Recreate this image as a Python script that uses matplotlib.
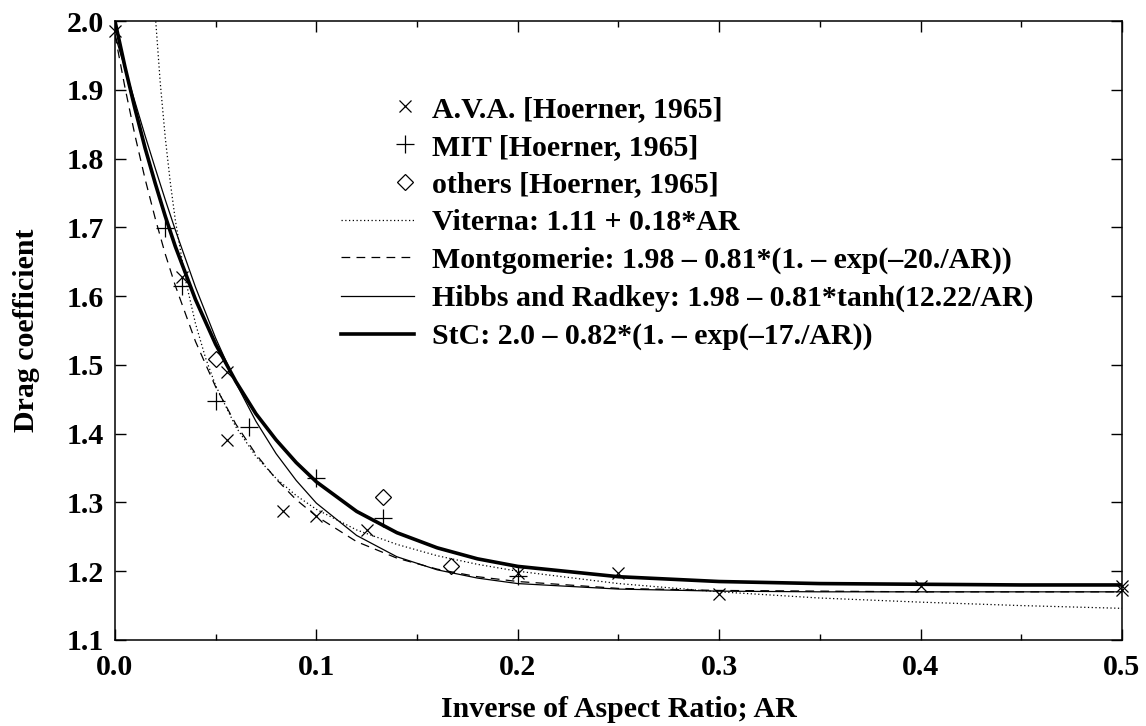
import matplotlib
matplotlib.use("Agg")
import matplotlib.pyplot as plt
from matplotlib.legend_handler import HandlerLine2D
from matplotlib.ticker import MultipleLocator

# measured points (x = inverse of aspect ratio)
ava_x = [0.0, 0.0333, 0.0556, 0.0556, 0.0833, 0.1, 0.125, 0.2, 0.25, 0.3, 0.4, 0.5, 0.5]
ava_y = [1.985, 1.628, 1.490, 1.391, 1.288, 1.280, 1.260, 1.197, 1.197, 1.167, 1.179, 1.179, 1.172]
mit_x = [0.025, 0.0333, 0.05, 0.0667, 0.1, 0.1333, 0.2]
mit_y = [1.699, 1.614, 1.447, 1.410, 1.336, 1.277, 1.193]
oth_x = [0.05, 0.1333, 0.1667]
oth_y = [1.509, 1.308, 1.208]

# fitted curves
curve_x = [0, 0.005, 0.01, 0.015, 0.02, 0.025, 0.03, 0.04, 0.05, 0.06, 0.07, 0.08, 0.09,
           0.1, 0.12, 0.14, 0.16, 0.18, 0.2, 0.25, 0.3, 0.35, 0.4, 0.45, 0.5]
montg_y = [1.98, 1.903, 1.833, 1.770, 1.713, 1.661, 1.615, 1.534, 1.468, 1.414, 1.370, 1.334, 1.304,
           1.280, 1.243, 1.219, 1.203, 1.192, 1.185, 1.175, 1.172, 1.171, 1.170, 1.170, 1.170]
hibbs_y = [1.98, 1.931, 1.882, 1.833, 1.786, 1.740, 1.696, 1.613, 1.539, 1.474, 1.418, 1.371, 1.332,
           1.299, 1.252, 1.221, 1.202, 1.190, 1.182, 1.174, 1.171, 1.170, 1.170, 1.170, 1.170]
stc_y = [2.0, 1.933, 1.872, 1.815, 1.764, 1.716, 1.672, 1.595, 1.530, 1.476, 1.429, 1.391, 1.358,
         1.330, 1.287, 1.256, 1.234, 1.218, 1.207, 1.192, 1.185, 1.182, 1.181, 1.180, 1.180]
vit_x = [0.018, 0.02, 0.0225, 0.025, 0.0275, 0.03, 0.035, 0.04, 0.045, 0.05, 0.06, 0.07, 0.08,
         0.09, 0.1, 0.12, 0.14, 0.16, 0.18, 0.2, 0.25, 0.3, 0.35, 0.4, 0.45, 0.5]
vit_y = [2.11, 2.01, 1.91, 1.83, 1.765, 1.71, 1.624, 1.56, 1.51, 1.47, 1.41, 1.367, 1.335,
         1.31, 1.29, 1.26, 1.239, 1.2225, 1.21, 1.2, 1.182, 1.17, 1.161, 1.155, 1.15, 1.146]

labels = ["A.V.A. [Hoerner, 1965]",
          "MIT [Hoerner, 1965]",
          "others [Hoerner, 1965]",
          "Viterna: 1.11 + 0.18*AR",
          "Montgomerie: 1.98 \u2013 0.81*(1. \u2013 exp(\u201320./AR))",
          "Hibbs and Radkey: 1.98 \u2013 0.81*tanh(12.22/AR)",
          "StC: 2.0 \u2013 0.82*(1. \u2013 exp(\u201317./AR))"]

plt.rcParams['font.family'] = ['Liberation Serif', 'DejaVu Serif']
plt.rcParams['font.weight'] = 'bold'
fs = 21.5

fig = plt.figure(figsize=(11.46, 7.26), dpi=100)
ax = fig.add_axes([0.1003, 0.1185, 0.8787, 0.8525])

ax.plot(ava_x, ava_y, ls='none', marker='x', ms=9, mew=0.9, color='black', label=labels[0], clip_on=False, zorder=3)
ax.plot(mit_x, mit_y, ls='none', marker='+', ms=13, mew=0.9, color='black', label=labels[1], clip_on=False, zorder=3)
ax.plot(oth_x, oth_y, ls='none', marker='D', ms=8.5, mew=0.9, mfc='none', color='black', label=labels[2], zorder=3)
ax.plot(vit_x, vit_y, ls=(0, (1, 2)), lw=0.9, color='black', label=labels[3])
ax.plot(curve_x, montg_y, ls=(0, (7, 5)), lw=0.9, color='black', label=labels[4])
ax.plot(curve_x, hibbs_y, ls='-', lw=0.9, color='black', label=labels[5])
ax.plot(curve_x, stc_y, ls='-', lw=2.6, color='black', label=labels[6])

ax.set_xlim(0, 0.5)
ax.set_ylim(1.1, 2.0)
ax.xaxis.set_major_locator(MultipleLocator(0.1))
ax.xaxis.set_minor_locator(MultipleLocator(0.05))
ax.yaxis.set_major_locator(MultipleLocator(0.1))
ax.xaxis.set_major_formatter(lambda v, p: f"{v:.1f}")
ax.yaxis.set_major_formatter(lambda v, p: f"{v:.1f}")
ax.tick_params(which='both', direction='in', top=True, right=True, labelsize=fs, width=1)
ax.tick_params(which='major', length=8)
ax.tick_params(which='minor', length=4.5)
ax.tick_params(axis='x', pad=10)
ax.tick_params(axis='y', pad=8)
for s in ax.spines.values():
    s.set_linewidth(1.1)

ax.set_xlabel("Inverse of Aspect Ratio; AR", fontsize=fs, fontweight='bold', labelpad=11)
ax.set_ylabel("Drag coefficient", fontsize=fs, fontweight='bold', labelpad=19)


class RightMarker(HandlerLine2D):
    # put the symbol at the right end of the legend sample, like the original
    def create_artists(self, legend, orig_handle, xdescent, ydescent, width, height, fontsize, trans):
        arts = super().create_artists(legend, orig_handle, xdescent, ydescent, width, height, fontsize, trans)
        for a in arts:
            if a.get_linestyle() in ('None', 'none', ''):
                a.set_xdata([width - xdescent - 0.3 * fontsize])
        return arts


handles, lbls = ax.get_legend_handles_labels()
hmap = {h: RightMarker(numpoints=1) for h in handles[:3]}
ax.legend(handles, lbls, loc='upper left', bbox_to_anchor=(0.2244, 0.879), frameon=False,
          prop={'size': fs, 'weight': 'bold'}, handlelength=2.45, handletextpad=0.6,
          labelspacing=0.36, borderpad=0, borderaxespad=0, handler_map=hmap)

fig.savefig("out.png", dpi=100)
